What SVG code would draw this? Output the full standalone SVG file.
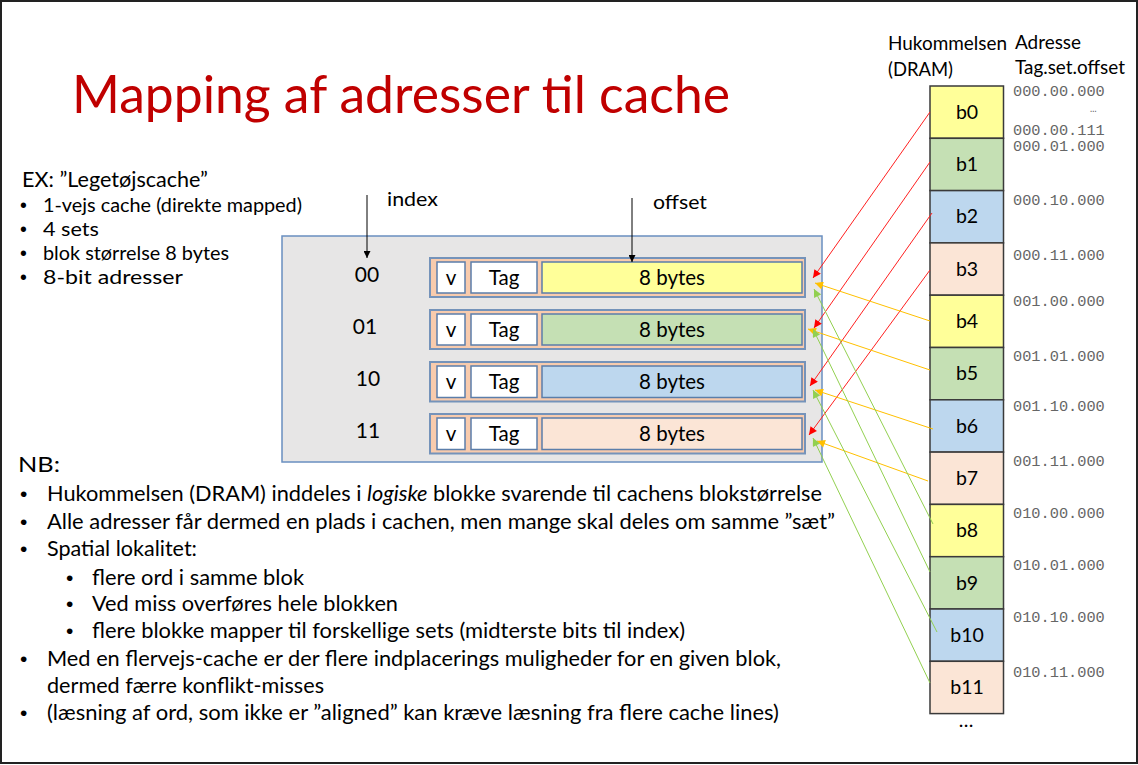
<svg xmlns="http://www.w3.org/2000/svg" width="1138" height="765" viewBox="0 0 1138 765">
  <style>
    text { font-family: Lato, "Liberation Sans", Arial, sans-serif; fill: #000; }
    .title { font-size: 52px; fill: #C00000; }
    .body { font-size: 21px; }
    .small { font-size: 19.5px; }
    .dot { font-family: "Liberation Sans", Arial, sans-serif; }
    .idx { font-size: 21px; text-anchor: middle; }
    .cell { font-size: 20.5px; text-anchor: middle; }
    .blk { font-size: 19.5px; text-anchor: middle; }
    .addr { font-family: "Liberation Mono", "Courier New", monospace; font-size: 15.3px; fill: #666; }
    .frame { fill: #fff; stroke: #222; stroke-width: 2; }
    .cachebox { fill: #E7E6E6; stroke: #6A8FC0; stroke-width: 1.5; }
    .line { fill: #F8CBAD; stroke: #7593BA; stroke-width: 2; }
    .field { stroke: #5B7EAA; stroke-width: 1.5; }
    .mem { stroke: #3a3a3a; stroke-width: 1.5; }
    .yel { fill: #FFFF99; }
    .grn { fill: #C5E0B4; }
    .blu { fill: #BDD7EE; }
    .sal { fill: #FBE5D6; }
    .wht { fill: #FFFFFF; }
    .r { stroke: #FF2020; stroke-width: 1; fill: none; marker-end: url(#ahR); }
    .y { stroke: #FFC000; stroke-width: 1; fill: none; marker-end: url(#ahY); }
    .g { stroke: #92D050; stroke-width: 1; fill: none; marker-end: url(#ahG); }
    .k { stroke: #000; stroke-width: 1; fill: none; marker-end: url(#ahK); }
  </style>
  <defs>
    <marker id="ahR" viewBox="0 0 10 10" refX="10" refY="5" markerUnits="userSpaceOnUse" markerWidth="9" markerHeight="8" orient="auto"><path d="M0,0 L10,5 L0,10 z" fill="#FF0000"/></marker>
    <marker id="ahY" viewBox="0 0 10 10" refX="10" refY="5" markerUnits="userSpaceOnUse" markerWidth="9" markerHeight="8" orient="auto"><path d="M0,0 L10,5 L0,10 z" fill="#FFC000"/></marker>
    <marker id="ahG" viewBox="0 0 10 10" refX="10" refY="5" markerUnits="userSpaceOnUse" markerWidth="9" markerHeight="8" orient="auto"><path d="M0,0 L10,5 L0,10 z" fill="#92D050"/></marker>
    <marker id="ahK" viewBox="0 0 10 10" refX="10" refY="5" markerUnits="userSpaceOnUse" markerWidth="8" markerHeight="7" orient="auto"><path d="M0,0 L10,5 L0,10 z" fill="#000"/></marker>
  </defs>

  <!-- slide frame -->
  <rect class="frame" x="1" y="1" width="1136" height="762"/>

  <!-- title -->
  <text class="title" x="72" y="113" textLength="658" lengthAdjust="spacingAndGlyphs">Mapping af adresser til cache</text>

  <!-- example description -->
  <g id="example">
    <text x="22" y="187" style="font-size:21px" textLength="186" lengthAdjust="spacingAndGlyphs">EX: ”Legetøjscache”</text>
    <text class="small dot" x="20" y="212">•</text>
    <text class="small" x="43" y="212" textLength="259" lengthAdjust="spacingAndGlyphs">1-vejs cache (direkte mapped)</text>
    <text class="small dot" x="20" y="236">•</text>
    <text class="small" x="43" y="236" textLength="56" lengthAdjust="spacingAndGlyphs">4 sets</text>
    <text class="small dot" x="20" y="260">•</text>
    <text class="small" x="43" y="260" textLength="186" lengthAdjust="spacingAndGlyphs">blok størrelse 8 bytes</text>
    <text class="small dot" x="20" y="284">•</text>
    <text class="small" x="43" y="284" textLength="140" lengthAdjust="spacingAndGlyphs">8-bit adresser</text>
  </g>

  <!-- address field labels -->
  <g id="labels">
    <text class="small" x="387" y="206" textLength="51" lengthAdjust="spacingAndGlyphs">index</text>
    <text class="small" x="653" y="209" textLength="54" lengthAdjust="spacingAndGlyphs">offset</text>
  </g>

  <!-- cache -->
  <g id="cache">
    <rect class="cachebox" x="282" y="236" width="540" height="226"/>
    <g id="set00">
      <text class="idx" x="367" y="282">00</text>
      <rect class="line" x="430" y="258" width="375" height="39"/>
      <rect class="field wht" x="437" y="262" width="28" height="31"/>
      <rect class="field wht" x="471" y="262" width="66" height="31"/>
      <rect class="field yel" x="542" y="262" width="260" height="31"/>
      <text class="cell" x="451" y="285">v</text>
      <text class="cell" x="504" y="285">Tag</text>
      <text class="cell" x="672" y="285">8 bytes</text>
    </g>
    <g id="set01">
      <text class="idx" x="365" y="334">01</text>
      <rect class="line" x="430" y="310" width="375" height="39"/>
      <rect class="field wht" x="437" y="314" width="28" height="31"/>
      <rect class="field wht" x="471" y="314" width="66" height="31"/>
      <rect class="field grn" x="542" y="314" width="260" height="31"/>
      <text class="cell" x="451" y="337">v</text>
      <text class="cell" x="504" y="337">Tag</text>
      <text class="cell" x="672" y="337">8 bytes</text>
    </g>
    <g id="set10">
      <text class="idx" x="368" y="386">10</text>
      <rect class="line" x="430" y="362" width="375" height="39.5"/>
      <rect class="field wht" x="437" y="366" width="28" height="31.5"/>
      <rect class="field wht" x="471" y="366" width="66" height="31.5"/>
      <rect class="field blu" x="542" y="366" width="260" height="31.5"/>
      <text class="cell" x="451" y="389">v</text>
      <text class="cell" x="504" y="389">Tag</text>
      <text class="cell" x="672" y="389">8 bytes</text>
    </g>
    <g id="set11">
      <text class="idx" x="368" y="438">11</text>
      <rect class="line" x="430" y="414" width="375" height="39.5"/>
      <rect class="field wht" x="437" y="418" width="28" height="31.5"/>
      <rect class="field wht" x="471" y="418" width="66" height="31.5"/>
      <rect class="field sal" x="542" y="418" width="260" height="31.5"/>
      <text class="cell" x="451" y="441">v</text>
      <text class="cell" x="504" y="441">Tag</text>
      <text class="cell" x="672" y="441">8 bytes</text>
    </g>
  </g>

  <!-- memory column -->
  <g id="memory">
    <text class="small" x="888" y="50" textLength="119" lengthAdjust="spacingAndGlyphs">Hukommelsen</text>
    <text class="small" x="888" y="76" textLength="65" lengthAdjust="spacingAndGlyphs">(DRAM)</text>
    <g id="b0"><rect class="mem yel" x="930" y="86" width="73.5" height="52.3"/><text class="blk" x="967" y="119">b0</text></g>
    <g id="b1"><rect class="mem grn" x="930" y="138.3" width="73.5" height="52.3"/><text class="blk" x="967" y="171">b1</text></g>
    <g id="b2"><rect class="mem blu" x="930" y="190.6" width="73.5" height="52.3"/><text class="blk" x="967" y="223">b2</text></g>
    <g id="b3"><rect class="mem sal" x="930" y="242.9" width="73.5" height="52.3"/><text class="blk" x="967" y="275.5">b3</text></g>
    <g id="b4"><rect class="mem yel" x="930" y="295.2" width="73.5" height="52.3"/><text class="blk" x="967" y="328">b4</text></g>
    <g id="b5"><rect class="mem grn" x="930" y="347.5" width="73.5" height="52.3"/><text class="blk" x="967" y="380">b5</text></g>
    <g id="b6"><rect class="mem blu" x="930" y="399.8" width="73.5" height="52.3"/><text class="blk" x="967" y="432.5">b6</text></g>
    <g id="b7"><rect class="mem sal" x="930" y="452.1" width="73.5" height="52.3"/><text class="blk" x="967" y="485">b7</text></g>
    <g id="b8"><rect class="mem yel" x="930" y="504.4" width="73.5" height="52.3"/><text class="blk" x="967" y="537">b8</text></g>
    <g id="b9"><rect class="mem grn" x="930" y="556.7" width="73.5" height="52.3"/><text class="blk" x="967" y="589.5">b9</text></g>
    <g id="b10"><rect class="mem blu" x="930" y="609" width="73.5" height="52.3"/><text class="blk" x="967" y="641.5">b10</text></g>
    <g id="b11"><rect class="mem sal" x="930" y="661.3" width="73.5" height="52.3"/><text class="blk" x="967" y="694">b11</text></g>
    <text class="blk" x="966" y="727">…</text>
  </g>

  <!-- address column -->
  <g id="addresses">
    <text class="small" x="1015" y="49" textLength="66" lengthAdjust="spacingAndGlyphs">Adresse</text>
    <text class="small" x="1015" y="74" textLength="110" lengthAdjust="spacingAndGlyphs">Tag.set.offset</text>
    <text class="addr" x="1013" y="96">000.00.000</text>
    <text class="addr" x="1090" y="112" style="font-size:11px">…</text>
    <text class="addr" x="1013" y="134.5">000.00.111</text>
    <text class="addr" x="1013" y="150.5">000.01.000</text>
    <text class="addr" x="1013" y="205">000.10.000</text>
    <text class="addr" x="1013" y="260">000.11.000</text>
    <text class="addr" x="1013" y="306">001.00.000</text>
    <text class="addr" x="1013" y="361">001.01.000</text>
    <text class="addr" x="1013" y="411">001.10.000</text>
    <text class="addr" x="1013" y="466">001.11.000</text>
    <text class="addr" x="1013" y="518">010.00.000</text>
    <text class="addr" x="1013" y="570">010.01.000</text>
    <text class="addr" x="1013" y="622">010.10.000</text>
    <text class="addr" x="1013" y="677">010.11.000</text>
  </g>

  <!-- connectors -->
  <g id="connectors">
    <line class="k" x1="367" y1="195" x2="367" y2="258"/>
    <line class="k" x1="632" y1="198" x2="632" y2="262"/>
    <line class="r" x1="930" y1="112" x2="813" y2="278"/>
    <line class="r" x1="930" y1="162" x2="814" y2="328"/>
    <line class="r" x1="932" y1="213" x2="810" y2="386"/>
    <line class="r" x1="930" y1="270" x2="809" y2="435"/>
    <line class="y" x1="930" y1="321" x2="815" y2="283"/>
    <line class="y" x1="930" y1="370" x2="808" y2="329"/>
    <line class="y" x1="933" y1="429" x2="815" y2="390"/>
    <line class="y" x1="928" y1="481" x2="817" y2="441"/>
    <line class="g" x1="933" y1="524" x2="814" y2="289"/>
    <line class="g" x1="930" y1="572" x2="813" y2="329"/>
    <line class="g" x1="937" y1="632" x2="813" y2="390"/>
    <line class="g" x1="930" y1="683" x2="813" y2="438"/>
  </g>

  <!-- notes -->
  <g id="notes">
    <text class="body" x="18" y="472" textLength="42" lengthAdjust="spacingAndGlyphs">NB:</text>
    <text class="body dot" x="20" y="501">•</text>
    <text class="body" x="47" y="501" textLength="775" lengthAdjust="spacingAndGlyphs">Hukommelsen (DRAM) inddeles i <tspan font-style="italic">logiske</tspan> blokke svarende til cachens blokstørrelse</text>
    <text class="body dot" x="20" y="529">•</text>
    <text class="body" x="47" y="529" textLength="788" lengthAdjust="spacingAndGlyphs">Alle adresser får dermed en plads i cachen, men mange skal deles om samme ”sæt”</text>
    <text class="body dot" x="20" y="556">•</text>
    <text class="body" x="47" y="556" textLength="150" lengthAdjust="spacingAndGlyphs">Spatial lokalitet:</text>
    <text class="body dot" x="66" y="585">•</text>
    <text class="body" x="92" y="585" textLength="212" lengthAdjust="spacingAndGlyphs">flere ord i samme blok</text>
    <text class="body dot" x="66" y="611">•</text>
    <text class="body" x="92" y="611" textLength="306" lengthAdjust="spacingAndGlyphs">Ved miss overføres hele blokken</text>
    <text class="body dot" x="66" y="638">•</text>
    <text class="body" x="92" y="638" textLength="593" lengthAdjust="spacingAndGlyphs">flere blokke mapper til forskellige sets (midterste bits til index)</text>
    <text class="body dot" x="20" y="666">•</text>
    <text class="body" x="47" y="666" textLength="734" lengthAdjust="spacingAndGlyphs">Med en flervejs-cache er der flere indplacerings muligheder for en given blok,</text>
    <text class="body" x="47" y="693" textLength="277" lengthAdjust="spacingAndGlyphs">dermed færre konflikt-misses</text>
    <text class="body dot" x="20" y="720">•</text>
    <text class="body" x="47" y="720" textLength="732" lengthAdjust="spacingAndGlyphs">(læsning af ord, som ikke er ”aligned” kan kræve læsning fra flere cache lines)</text>
  </g>
</svg>
